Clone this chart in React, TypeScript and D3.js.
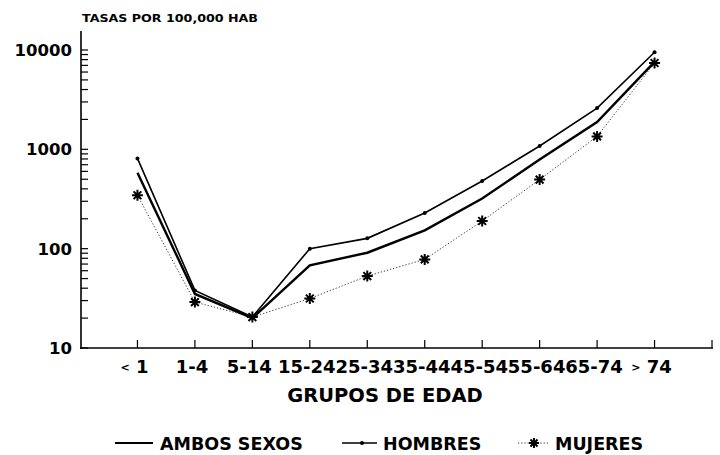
// mortality rates by age group, log scale
import * as d3 from "d3";
import { useEffect, useRef } from "react";

const ageGroups = ["< 1", "1-4", "5-14", "15-24", "25-34", "35-44", "45-54", "55-64", "65-74", "> 74"];
const ambos = [580, 35, 20, 68, 91, 153, 320, 790, 1880, 7600];
const hombres = [810, 38, 20.5, 100, 127, 229, 480, 1080, 2600, 9500];
const mujeres = [345, 29, 20.5, 31.5, 53, 78, 190, 496, 1350, 7400];
const yTickLabels = [10, 100, 1000, 10000];

// 8-armed asterisk used for MUJERES
function starPath(r: number) {
  const p = d3.path();
  for (let k = 0; k < 4; k++) {
    const a = (k * Math.PI) / 4;
    p.moveTo(-r * Math.cos(a), -r * Math.sin(a));
    p.lineTo(r * Math.cos(a), r * Math.sin(a));
  }
  return p.toString();
}

export default function App() {
  const svgRef = useRef<SVGSVGElement>(null);

  useEffect(() => {
    const W = 720;
    const H = 455;
    const font = "'DejaVu Sans', sans-serif";

    const root = d3.select(svgRef.current);
    root.selectAll("*").remove();
    const svg = root.attr("width", W).attr("height", H);

    svg.append("rect").attr("width", W).attr("height", H).attr("fill", "#fff");

    const x = d3.scaleLinear().domain([0, ageGroups.length + 1]).range([80, 712]);
    const y = d3.scaleLog().domain([10, 10000]).range([348, 50]);

    // title
    svg
      .append("text")
      .attr("x", 82)
      .attr("y", 21.5)
      .attr("textLength", 176)
      .attr("lengthAdjust", "spacingAndGlyphs")
      .style("font-family", font)
      .style("font-weight", "bold")
      .style("font-size", 10)
      .text("TASAS POR 100,000 HAB");

    // y axis with minor ticks
    svg
      .append("line")
      .attr("x1", 81)
      .attr("x2", 81)
      .attr("y1", 31)
      .attr("y2", 349)
      .attr("stroke", "#000")
      .attr("stroke-width", 1.6);

    const minor: number[] = [];
    for (let dec = 10; dec < 10000; dec *= 10) {
      for (let k = 1; k < 10; k++) minor.push(dec * k);
    }
    minor.push(10000);
    svg
      .append("g")
      .selectAll("line")
      .data(minor)
      .enter()
      .append("line")
      .attr("x1", 81)
      .attr("x2", 88)
      .attr("y1", (d) => y(d))
      .attr("y2", (d) => y(d))
      .attr("stroke", "#000")
      .attr("stroke-width", 1.2);

    svg
      .append("g")
      .selectAll("text")
      .data(yTickLabels)
      .enter()
      .append("text")
      .attr("x", 72)
      .attr("y", (d) => y(d) + 6)
      .attr("text-anchor", "end")
      .style("font-family", font)
      .style("font-weight", "bold")
      .style("font-size", 16.5)
      .text((d) => String(d));

    // x axis
    svg
      .append("line")
      .attr("x1", 80)
      .attr("x2", 713)
      .attr("y1", 348)
      .attr("y2", 348)
      .attr("stroke", "#000")
      .attr("stroke-width", 1.6);

    const xt = d3.range(1, ageGroups.length + 2);
    svg
      .append("g")
      .selectAll("line")
      .data(xt)
      .enter()
      .append("line")
      .attr("x1", (d) => x(d))
      .attr("x2", (d) => x(d))
      .attr("y1", 348)
      .attr("y2", 340)
      .attr("stroke", "#000")
      .attr("stroke-width", 1.2);

    const xl = svg
      .append("g")
      .selectAll("text")
      .data(ageGroups)
      .enter()
      .append("text")
      .attr("x", (d, i) => x(i + 1) - 3)
      .attr("y", 373)
      .attr("text-anchor", "middle")
      .style("font-family", font)
      .style("font-weight", "bold")
      .style("font-size", 18);
    // the < and > signs are drawn small, as in the original
    xl.each(function (d) {
      const t = d3.select(this);
      if (d[0] === "<" || d[0] === ">") {
        t.append("tspan").style("font-size", 11).attr("dy", -2).text(d[0]);
        t.append("tspan").attr("dy", 2).text(d.slice(1));
      } else {
        t.text(d);
      }
    });

    svg
      .append("text")
      .attr("x", 385)
      .attr("y", 401.5)
      .attr("text-anchor", "middle")
      .style("font-family", font)
      .style("font-weight", "bold")
      .style("font-size", 19.5)
      .text("GRUPOS DE EDAD");

    // series
    const line = d3
      .line<number>()
      .x((d, i) => x(i + 1))
      .y((d) => y(d));

    svg
      .append("path")
      .attr("d", line(mujeres))
      .attr("fill", "none")
      .attr("stroke", "#333")
      .attr("stroke-width", 1)
      .attr("stroke-dasharray", "1.2,2");

    svg
      .append("path")
      .attr("d", line(hombres))
      .attr("fill", "none")
      .attr("stroke", "#000")
      .attr("stroke-width", 1.6);

    svg
      .append("path")
      .attr("d", line(ambos))
      .attr("fill", "none")
      .attr("stroke", "#000")
      .attr("stroke-width", 2.4);

    svg
      .append("g")
      .selectAll("circle")
      .data(hombres)
      .enter()
      .append("circle")
      .attr("cx", (d, i) => x(i + 1))
      .attr("cy", (d) => y(d))
      .attr("r", 2)
      .attr("fill", "#000");

    const star = starPath(5.5);
    svg
      .append("g")
      .selectAll("path")
      .data(mujeres)
      .enter()
      .append("path")
      .attr("d", star)
      .attr("transform", (d, i) => `translate(${x(i + 1)},${y(d)})`)
      .attr("fill", "none")
      .attr("stroke", "#000")
      .attr("stroke-width", 2);

    // legend
    const ly = 443;
    const lg = svg.append("g");
    lg.append("line").attr("x1", 115).attr("x2", 153).attr("y1", ly).attr("y2", ly)
      .attr("stroke", "#000").attr("stroke-width", 2);
    lg.append("line").attr("x1", 342).attr("x2", 377).attr("y1", ly).attr("y2", ly)
      .attr("stroke", "#000").attr("stroke-width", 1.5);
    lg.append("circle").attr("cx", 362).attr("cy", ly).attr("r", 2).attr("fill", "#000");
    lg.append("line").attr("x1", 518).attr("x2", 548).attr("y1", ly).attr("y2", ly)
      .attr("stroke", "#333").attr("stroke-width", 1).attr("stroke-dasharray", "1.2,2");
    lg.append("path").attr("d", starPath(5)).attr("transform", `translate(534,${ly})`)
      .attr("fill", "none").attr("stroke", "#000").attr("stroke-width", 2);

    const legendItems = [
      { label: "AMBOS SEXOS", x: 160 },
      { label: "HOMBRES", x: 383 },
      { label: "MUJERES", x: 555 },
    ];
    lg.selectAll("text.lab")
      .data(legendItems)
      .enter()
      .append("text")
      .attr("x", (d) => d.x)
      .attr("y", ly + 7)
      .style("font-family", font)
      .style("font-weight", "bold")
      .style("font-size", 17.5)
      .text((d) => d.label);
  }, []);

  return <svg ref={svgRef} style={{ position: "absolute", left: 0, top: 0 }} />;
}
